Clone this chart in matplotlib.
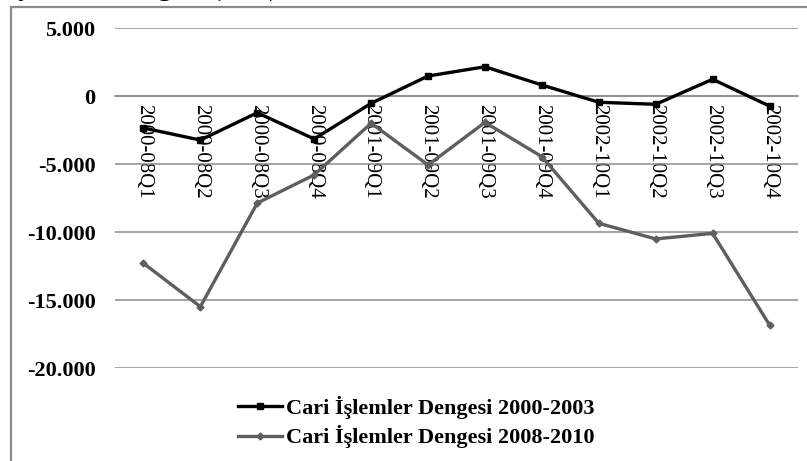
import numpy as np
import matplotlib
matplotlib.use("Agg")
import matplotlib.pyplot as plt
from matplotlib.patches import Rectangle
from matplotlib.ticker import FixedLocator, FuncFormatter

# Quarterly current account balance (million $)
quarters = ["2000-08Q1", "2000-08Q2", "2000-08Q3", "2000-08Q4",
            "2001-09Q1", "2001-09Q2", "2001-09Q3", "2001-09Q4",
            "2002-10Q1", "2002-10Q2", "2002-10Q3", "2002-10Q4"]
balance_2000_2003 = [-2350, -3240, -1230, -3160, -540, 1470,
                     2150, 810, -460, -610, 1230, -740]
balance_2008_2010 = [-12300, -15490, -7870, -5800, -2000, -5070,
                     -1940, -4460, -9360, -10510, -10100, -16840]
label_2000 = "Cari İşlemler Dengesi 2000-2003"
label_2008 = "Cari İşlemler Dengesi 2008-2010"
yticks = [5000, 0, -5000, -10000, -15000, -20000]

serif = ["Liberation Serif", "DejaVu Serif"]
plt.rcParams["font.family"] = serif

W, H = 807, 461
fig = plt.figure(figsize=(W / 100, H / 100), dpi=100)
fig.patch.set_facecolor("white")

# outer chart frame (only left and top edges fall inside the image)
fig.patches.append(Rectangle((11 / W, -0.1), 1.2, 1 - 7 / H + 0.1,
                             transform=fig.transFigure, fill=False,
                             edgecolor="#8a8a8a", linewidth=1.6))

# title sits above the frame, mostly outside the image
fig.text(-51 / W, 1 + 5 / H, "Cari İşlemler Dengesi (M $)",
         fontsize=21, ha="left", va="baseline", color="black")

ax = fig.add_axes([115 / W, 1 - 368 / H, 683 / W, 340 / H])
x = np.arange(len(quarters))

ax.plot(x, balance_2000_2003, color="black", linewidth=2.4, marker="s",
        markersize=4.5, label=label_2000, zorder=4)
ax.plot(x, balance_2008_2010, color="#5e5e5e", linewidth=2.4, marker="D",
        markersize=3.5, label=label_2008, zorder=3)

ax.set_xlim(-0.5, len(quarters) - 0.5)
ax.set_ylim(-20000, 5000)

ax.yaxis.set_major_locator(FixedLocator(yticks))
ax.yaxis.set_major_formatter(FuncFormatter(
    lambda v, p: "0" if v == 0 else ("-" if v < 0 else "") + f"{abs(int(v)):,}".replace(",", ".")))
ax.tick_params(axis="y", length=0, pad=14, labelsize=16)
for t in ax.get_yticklabels():
    t.set_fontweight("bold")

ax.grid(axis="y", color="#8c8c8c", linewidth=1.1)
ax.set_axisbelow(True)

# category axis sits on the zero line
ax.spines["bottom"].set_position(("data", 0))
ax.spines["bottom"].set_color("#8c8c8c")
ax.spines["bottom"].set_linewidth(1.1)
for s in ["left", "right", "top"]:
    ax.spines[s].set_visible(False)
ax.set_xticks(x)
ax.set_xticklabels(quarters, rotation=270, fontsize=15)
ax.tick_params(axis="x", length=0, pad=6)

leg = fig.legend(loc="center", bbox_to_anchor=(416 / W, 1 - 422 / H),
                 frameon=False, handlelength=2.0, handletextpad=0.15,
                 labelspacing=0.3, prop={"family": serif, "weight": "bold", "size": 16})

fig.savefig("out.png", dpi=100)
